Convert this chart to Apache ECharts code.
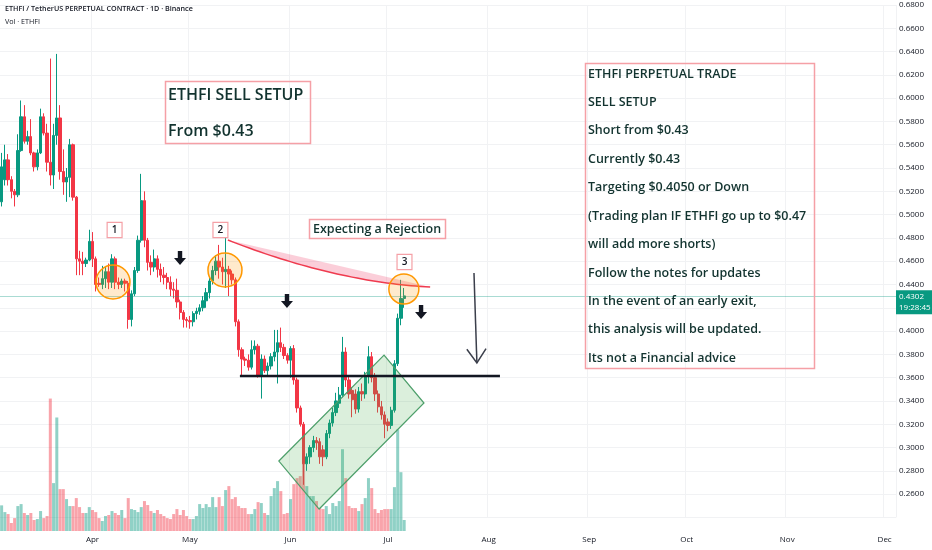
<!DOCTYPE html>
<html><head><meta charset="utf-8">
<script src="https://cdn.jsdelivr.net/npm/echarts@6/dist/echarts.min.js"></script>
<style>html,body{margin:0;padding:0;background:#fff}#c{width:932px;height:550px}</style>
</head><body><div id="c"></div>
<script>
// ---------- data ----------
const startDate = [2025, 2, 4];      // 4 Mar 2025 (first daily candle)
const dayCount = 276;                // axis runs to early December
const monthNames = ['Jan','Feb','Mar','Apr','May','Jun','Jul','Aug','Sep','Oct','Nov','Dec'];

const open = [.511,.530,.547,.530,.520,.517,.555,.584,.563,.567,.553,.541,.553,.584,.570,.545,.534,.568,.583,.537,
.528,.532,.560,.515,.462,.460,.458,.461,.477,.462,.441,.440,.445,.451,.442,.462,.442,.440,.443,.441,
.410,.432,.452,.478,.512,.478,.459,.455,.462,.453,.448,.446,.442,.436,.435,.425,.416,.410,.409,.408,
.415,.417,.420,.426,.433,.443,.452,.460,.455,.451,.453,.449,.444,.408,.384,.376,.375,.369,.384,.387,
.362,.376,.366,.370,.378,.382,.390,.386,.379,.375,.385,.358,.334,.320,.286,.292,.300,.306,.305,.298,
.292,.312,.321,.330,.338,.345,.382,.358,.349,.346,.333,.348,.346,.361,.378,.360,.346,.335,.328,.322,
.319,.332,.372,.411,.428];
const high = [.553,.560,.552,.533,.522,.569,.598,.594,.572,.582,.554,.556,.591,.587,.578,.634,.578,.638,.594,.556,
.540,.565,.561,.516,.469,.468,.463,.487,.485,.464,.446,.456,.455,.458,.466,.464,.446,.445,.445,.443,
.435,.455,.482,.535,.520,.480,.465,.470,.465,.458,.455,.450,.447,.442,.445,.427,.418,.412,.413,.417,
.420,.423,.430,.437,.446,.456,.465,.474,.463,.480,.456,.452,.446,.410,.386,.378,.380,.392,.392,.389,
.380,.379,.373,.381,.401,.401,.403,.389,.381,.387,.388,.360,.336,.322,.295,.302,.310,.309,.308,.302,
.315,.324,.334,.347,.352,.395,.386,.362,.352,.350,.352,.355,.365,.387,.382,.364,.349,.340,.331,.325,
.335,.375,.415,.444,.437];
const low = [.507,.525,.525,.514,.507,.515,.554,.561,.560,.551,.537,.538,.552,.568,.537,.525,.522,.560,.530,.517,
.511,.515,.512,.448,.448,.448,.455,.460,.455,.434,.438,.436,.437,.436,.437,.436,.436,.437,.434,.402,
.404,.430,.450,.476,.472,.452,.448,.451,.446,.442,.440,.436,.430,.428,.420,.410,.403,.403,.402,.404,
.410,.414,.417,.420,.428,.440,.448,.445,.440,.437,.430,.440,.404,.378,.362,.370,.366,.367,.380,.360,
.342,.364,.362,.367,.374,.355,.382,.376,.372,.360,.354,.330,.318,.268,.280,.286,.296,.298,.286,.284,
.290,.308,.318,.327,.334,.343,.352,.342,.326,.329,.330,.340,.342,.355,.356,.340,.330,.324,.308,.314,
.316,.330,.370,.405,.420];
const close = [.541,.547,.530,.520,.517,.555,.584,.563,.567,.553,.541,.553,.584,.570,.545,.534,.568,.583,.537,.528,
.532,.560,.515,.462,.460,.458,.461,.477,.462,.440,.440,.445,.451,.442,.462,.442,.440,.443,.441,.410,
.432,.452,.478,.512,.478,.459,.455,.462,.453,.448,.446,.442,.436,.435,.425,.416,.410,.409,.408,.415,
.417,.420,.426,.433,.443,.452,.460,.455,.451,.453,.449,.444,.408,.384,.376,.375,.369,.384,.387,.362,
.376,.366,.370,.378,.382,.390,.386,.379,.375,.385,.358,.334,.320,.286,.292,.300,.306,.304,.292,.292,
.312,.321,.330,.340,.345,.382,.358,.346,.341,.333,.348,.346,.361,.378,.360,.346,.335,.328,.320,.319,
.332,.372,.411,.428,.4302];
const volume = [29.8,22,19.7,9.3,15,29,31.3,20.9,18.6,20.9,12.8,13.9,23.2,15,17.4,154,55.7,132,48.7,48.7,
37.1,29,29,38.3,27.8,20.9,20.9,27.8,24.4,22,15,11.6,17.4,18.6,23.2,20.9,18.6,24.4,15,38.3,
25.5,24.4,22,27.8,34.8,30.2,23.2,20.9,24.4,19.7,17.4,15,13.9,19.7,25.5,18.6,24.4,17.4,13.9,13.9,
17.4,31.3,26.7,31.3,27.8,39.4,27.8,39.4,29,47.6,52.2,37.1,39.4,29,26.7,26.7,19.7,19.7,25.5,33.6,
32.5,20.9,18.6,40.6,49.9,58,46.4,19.7,20.9,37.1,54.5,61.5,63.8,78.9,52.2,40.6,40.6,34.8,26.7,25.5,
29,19.7,32.5,29,34.8,95.1,61.5,29,26.7,26.7,23.2,31.3,38.3,61.5,49.9,25.5,20.9,24.4,25.5,25.5,
25.5,51,118,68.4,12.79];   // millions
const lastPrice = 0.4302;
const lastVolumeLabel = '12.79M';
const countdown = '19:28:45';

// annotations, in data space: [day index, price]
const channelBox = [[85.4,.2884],[117.8,.3794],[130.1,.3382],[97.8,.2472]];
const supportLine = [[73.4,.3614],[153.5,.3614]];
const arcPoints = [[69.7,.4782],[102.7,.4421],[132.0,.4378]];   // start, control, end
const circles = [[34.3,.4421,17],[68.8,.4524,17],[123.9,.4361,15]];
const numberTags = [['1',34.8,.4868],['2',67.4,.4868],['3',124.1,.4593]];
const downArrows = [[54.95,.4687],[87.9,.4318],[129.2,.4223]];
const bigArrow = [[145.5,.4498],[146.4,.3726]];

const headerTitle = 'ETHFI / TetherUS PERPETUAL CONTRACT · 1D · Binance';
const headerVol = 'Vol · ETHFI';
const box1Lines = ['ETHFI SELL SETUP', 'From $0.43'];
const box2Lines = ['ETHFI PERPETUAL TRADE','SELL SETUP','Short from $0.43','Currently $0.43','Targeting $0.4050 or Down',
  '(Trading plan IF ETHFI go up to $0.47','will add more shorts)','Follow the notes for updates',
  'In the event of an early exit,','this analysis will be updated.','Its not a Financial advice'];
const rejectionText = 'Expecting a Rejection';

// ---------- build ----------
const dates = [];
{
  const t0 = Date.UTC(startDate[0], startDate[1], startDate[2]);
  for (let i = 0; i < dayCount; i++) dates.push(new Date(t0 + i * 86400000).toISOString().slice(0, 10));
}
const isMonthStart = (i, v) => typeof v === 'string' ? v.slice(8, 10) === '01' : dates[i] && dates[i].slice(8,10) === '01';

const UP = '#089981', DOWN = '#f23645';
const VUP = 'rgba(8,153,129,0.45)', VDOWN = 'rgba(242,54,69,0.45)';
const candleData = open.map((o, i) => [o, close[i], low[i], high[i]]);
const volData = volume.map((v, i) => ({ value: v, itemStyle: { color: close[i] >= open[i] ? VUP : VDOWN } }));

const TXT = '#12332f';
const PINK = '#f5a0a6';
const FONT = '"Open Sans", Lato, sans-serif';

function renderAnnotations(params, api) {
  const pt = (x, y) => {
    const f = Math.floor(x);
    const a = api.coord([f, y]);
    const b = api.coord([f + 1, y]);
    return [a[0] + (x - f) * (b[0] - a[0]), a[1]];
  };
  const children = [];
  children.push({ type: 'polygon', shape: { points: channelBox.map(p => pt(p[0], p[1])) },
    style: { fill: 'rgba(76,175,80,0.2)', stroke: '#4d9f6a', lineWidth: 1.2 } });
  const s0 = pt(...supportLine[0]), s1 = pt(...supportLine[1]);
  children.push({ type: 'line', shape: { x1: s0[0], y1: s0[1], x2: s1[0], y2: s1[1] },
    style: { stroke: '#131722', lineWidth: 2.5 } });
  const P0 = pt(...arcPoints[0]), P1 = pt(...arcPoints[1]), P2 = pt(...arcPoints[2]);
  const curve = [];
  for (let k = 0; k <= 40; k++) {
    const t = k / 40, u = 1 - t;
    curve.push([u*u*P0[0] + 2*u*t*P1[0] + t*t*P2[0], u*u*P0[1] + 2*u*t*P1[1] + t*t*P2[1]]);
  }
  children.push({ type: 'polygon', shape: { points: curve }, style: { fill: 'rgba(240,80,120,0.28)', stroke: 'none' } });
  children.push({ type: 'polyline', shape: { points: curve }, style: { stroke: '#ef3b4f', lineWidth: 1.5, fill: 'none' } });
  circles.forEach(c => {
    const p = pt(c[0], c[1]);
    children.push({ type: 'circle', shape: { cx: p[0], cy: p[1], r: c[2] },
      style: { fill: 'rgba(255,152,0,0.2)', stroke: '#ff9800', lineWidth: 1.5 } });
  });
  numberTags.forEach(n => {
    const p = pt(n[1], n[2]);
    children.push({ type: 'text', x: p[0], y: p[1],
      style: { text: n[0], fill: '#131722', font: '600 10px ' + FONT, align: 'center', verticalAlign: 'middle',
        backgroundColor: '#fff', borderColor: PINK, borderWidth: 1.2, padding: [2, 4, 2, 4] } });
  });
  downArrows.forEach(a => {
    const p = pt(a[0], a[1]);
    const cx = p[0], ty = p[1];
    children.push({ type: 'polygon', shape: { points: [[cx-2.2,ty],[cx+2.2,ty],[cx+2.2,ty+7],[cx+6,ty+7],[cx,ty+14],[cx-6,ty+7],[cx-2.2,ty+7]] },
      style: { fill: '#131722' } });
  });
  const A0 = pt(...bigArrow[0]), A1 = pt(...bigArrow[1]);
  const dx = A1[0] - A0[0], dy = A1[1] - A0[1], len = Math.hypot(dx, dy);
  const ux = dx / len, uy = dy / len, hl = 17;
  const rot = (ang) => [A1[0] - hl * (ux * Math.cos(ang) - uy * Math.sin(ang)), A1[1] - hl * (uy * Math.cos(ang) + ux * Math.sin(ang))];
  const h1 = rot(0.6), h2 = rot(-0.6);
  children.push({ type: 'line', shape: { x1: A0[0], y1: A0[1], x2: A1[0], y2: A1[1] }, style: { stroke: '#3b3f4b', lineWidth: 1.5 } });
  children.push({ type: 'polyline', shape: { points: [h1, A1, h2] }, style: { stroke: '#3b3f4b', lineWidth: 1.5, fill: 'none' } });
  return { type: 'group', children };
}

const graphics = [
  { type: 'text', left: 5, top: 5, z: 100, style: { text: headerTitle, fill: '#131722', font: '600 7.2px ' + FONT } },
  { type: 'text', left: 5, top: 18, z: 100, style: { text: headerVol, fill: '#131722', font: '7.2px ' + FONT } },
  { type: 'rect', z: 100, shape: { x: 165.5, y: 81.5, width: 145, height: 62 }, style: { fill: 'rgba(255,255,255,0)', stroke: PINK, lineWidth: 1.5 } },
  { type: 'text', z: 101, x: 168, y: 95, style: { text: box1Lines[0], fill: TXT, font: '600 16px ' + FONT, verticalAlign: 'middle' } },
  { type: 'text', z: 101, x: 168, y: 131, style: { text: box1Lines[1], fill: TXT, font: '600 16px ' + FONT, verticalAlign: 'middle' } },
  { type: 'rect', z: 100, shape: { x: 309.5, y: 219.5, width: 136, height: 19 }, style: { fill: '#fff', stroke: PINK, lineWidth: 1.5 } },
  { type: 'text', z: 101, x: 313, y: 229.5, style: { text: rejectionText, fill: TXT, font: '600 12.5px ' + FONT, verticalAlign: 'middle' } },
  { type: 'rect', z: 100, shape: { x: 585.5, y: 63.5, width: 229, height: 305 }, style: { fill: 'rgba(255,255,255,0)', stroke: PINK, lineWidth: 1.5 } }
];
box2Lines.forEach((t, i) => graphics.push({ type: 'text', z: 101, x: 588, y: 74 + i * 28.43,
  style: { text: t, fill: TXT, font: '600 12.5px ' + FONT, verticalAlign: 'middle' } }));

const chart = echarts.init(document.getElementById('c'));
chart.setOption({
  animation: false,
  backgroundColor: '#fff',
  textStyle: { fontFamily: FONT },
  grid: [
    { left: 0, right: 36, top: 5, bottom: 32.6 },
    { left: 0, right: 36, bottom: 19, height: 172 }
  ],
  xAxis: [
    { type: 'category', gridIndex: 0, data: dates, boundaryGap: true,
      axisLine: { show: false }, axisTick: { show: false }, axisLabel: { show: false },
      splitLine: { show: true, interval: (i, v) => isMonthStart(i, v), lineStyle: { color: '#f1f2f4', width: 1 } } },
    { type: 'category', gridIndex: 1, data: dates, boundaryGap: true,
      axisLine: { show: false }, axisTick: { show: false }, splitLine: { show: false },
      axisLabel: { interval: (i, v) => isMonthStart(i, v), formatter: v => monthNames[+v.slice(5, 7) - 1],
        color: '#131722', fontSize: 8, margin: 5 } }
  ],
  yAxis: [
    { type: 'value', gridIndex: 0, position: 'right', min: 0.24, max: 0.68, interval: 0.02,
      axisLine: { show: false }, axisTick: { show: false },
      axisLabel: { color: '#131722', fontSize: 8, margin: 3, formatter: v => v < 0.25 ? '' : v.toFixed(4) },
      splitLine: { lineStyle: { color: '#f1f2f4', width: 1 } } },
    { type: 'value', gridIndex: 1, min: 0, max: 200, show: false }
  ],
  graphic: graphics,
  series: [
    { type: 'bar', xAxisIndex: 1, yAxisIndex: 1, data: volData, barWidth: 3, z: 1,
      markLine: { silent: true, symbol: 'none', data: [{ yAxis: 12.79 }], lineStyle: { opacity: 0 },
        label: { position: 'end', distance: 0, formatter: lastVolumeLabel, color: '#fff', backgroundColor: '#22a58f',
          fontSize: 8, padding: [2, 3, 1, 3] } } },
    { type: 'candlestick', xAxisIndex: 0, yAxisIndex: 0, data: candleData, barWidth: 2.8, z: 3,
      itemStyle: { color: UP, color0: DOWN, borderColor: UP, borderColor0: DOWN, borderWidth: 1 },
      markLine: { silent: true, symbol: 'none', data: [{ yAxis: lastPrice }],
        lineStyle: { color: 'rgba(8,153,129,0.35)', type: 'solid', width: 1 },
        label: { position: 'end', distance: 0, offset: [0, 6], formatter: lastPrice.toFixed(4) + '\n' + countdown, color: '#fff',
          backgroundColor: '#089981', fontSize: 8, lineHeight: 11, padding: [1, 3, 1, 3] } } },
    { type: 'custom', xAxisIndex: 0, yAxisIndex: 0, data: [[0, 0.5]], renderItem: renderAnnotations, z: 10, silent: true }
  ]
});
</script>
</body></html>
